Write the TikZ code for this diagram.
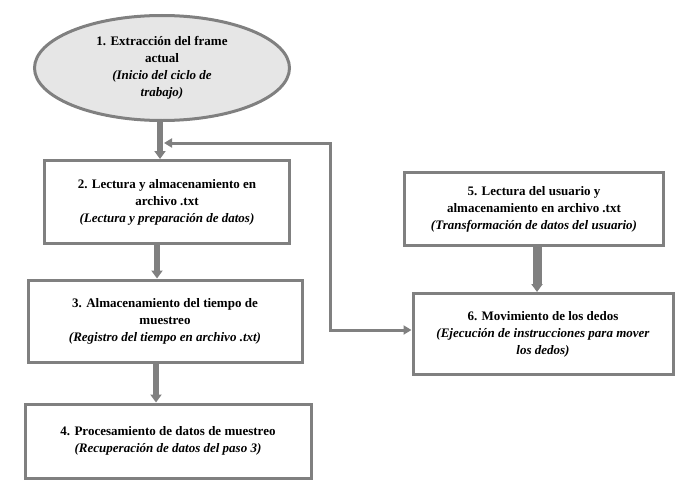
\documentclass[tikz,border=0pt]{standalone}
\usepackage{fontspec}
\setmainfont{Liberation Serif}
\usetikzlibrary{shapes.geometric, arrows.meta, positioning}
\definecolor{linegray}{RGB}{128,128,128}
\definecolor{ovalgray}{RGB}{230,230,230}

\begin{document}
\begin{tikzpicture}[x=1pt, y=-1pt,
    step box/.style={rectangle, draw=linegray, line width=3pt, fill=white,
        text centered, align=center, text=black, font=\fontsize{13}{17}\selectfont},
    start oval/.style={ellipse, draw=linegray, line width=3pt, fill=ovalgray,
        text centered, align=center, text=black, font=\fontsize{13}{17}\selectfont},
    flow/.style={draw=linegray, line width=6pt, -{Triangle[length=8pt, width=11pt]}},
    back/.style={draw=linegray, line width=3pt, {Triangle[length=8pt, width=9pt]}-{Triangle[length=8pt, width=9pt]}}
]
\useasboundingbox (0,0) rectangle (676,495);
\node (Start) [start oval, minimum width=255pt, minimum height=105pt, inner sep=0pt] at (162,68)
    {\textbf{1. Extracción del frame}\\\textbf{actual}\\\textbf{\textit{(Inicio del ciclo de}}\\\textbf{\textit{trabajo)}}};
\node (Read) [step box, minimum width=245pt, minimum height=83pt] at (167,202)
    {\textbf{2. Lectura y almacenamiento en}\\\textbf{archivo .txt}\\\textbf{\textit{(Lectura y preparación de datos)}}};
\node (Store) [step box, minimum width=274pt, minimum height=82pt] at (165,321)
    {\textbf{3. Almacenamiento del tiempo de}\\\textbf{muestreo}\\\textbf{\textit{(Registro del tiempo en archivo .txt)}}};
\node (Proc) [step box, minimum width=286pt, minimum height=74pt] at (168,441)
    {\textbf{4. Procesamiento de datos de muestreo}\\\textbf{\textit{(Recuperación de datos del paso 3)}}};
\node (User) [step box, minimum width=259pt, minimum height=73pt] at (534,209)
    {\textbf{5. Lectura del usuario y}\\\textbf{almacenamiento en archivo .txt}\\\textbf{\textit{(Transformación de datos del usuario)}}};
\node (Move) [step box, minimum width=260pt, minimum height=81pt] at (543,334)
    {\textbf{6. Movimiento de los dedos}\\\textbf{\textit{(Ejecución de instrucciones para mover}}\\\textbf{\textit{los dedos)}}};

\draw [flow] (Start.south -| 160,0) -- (Read.north -| 160,0);
\draw [flow] (Read.south -| 157,0) -- (Store.north -| 157,0);
\draw [flow] (Store.south -| 156,0) -- (Proc.north -| 156,0);
\draw [flow, line width=9pt] (User.south -| 537,0) -- (Move.north -| 537,0);

\coordinate (BackTop) at (164,143);
\draw [back] (BackTop) -| (330,330) -- (Move.west |- 0,330);
\end{tikzpicture}
\end{document}
